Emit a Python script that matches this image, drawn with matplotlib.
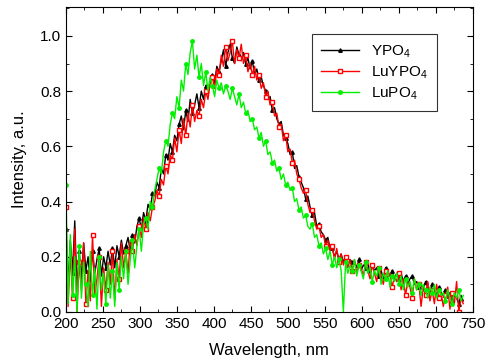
import numpy as np
import matplotlib
matplotlib.use("Agg")
import matplotlib.pyplot as plt
from matplotlib.ticker import MultipleLocator, FormatStrFormatter

plt.rcParams['font.family'] = ['Liberation Sans', 'DejaVu Sans']
plt.rcParams['mathtext.default'] = 'regular'

wavelength = np.arange(200, 740, 3)

ypo4 = [0.30, 0.10, 0.26, 0.14, 0.33, 0.08, 0.22, 0.12, 0.25, 0.15,
        0.20, 0.11, 0.22, 0.14, 0.19, 0.23, 0.13, 0.20, 0.16, 0.22,
        0.17, 0.23, 0.16, 0.24, 0.20, 0.26, 0.21, 0.24, 0.27, 0.22,
        0.28, 0.25, 0.31, 0.34, 0.30, 0.36, 0.33, 0.39, 0.37, 0.43,
        0.42, 0.47, 0.45, 0.52, 0.50, 0.57, 0.55, 0.61, 0.58, 0.64,
        0.62, 0.68, 0.71, 0.66, 0.73, 0.69, 0.77, 0.72, 0.75, 0.79,
        0.74, 0.80, 0.77, 0.82, 0.79, 0.84, 0.86, 0.83, 0.89, 0.87,
        0.91, 0.95, 0.89, 0.94, 0.97, 0.92, 0.90, 0.96, 0.93, 0.91,
        0.94, 0.90, 0.92, 0.88, 0.91, 0.86, 0.88, 0.84, 0.85, 0.82,
        0.80, 0.77, 0.78, 0.73, 0.74, 0.70, 0.68, 0.69, 0.64, 0.63,
        0.61, 0.57, 0.58, 0.52, 0.53, 0.49, 0.47, 0.45, 0.41, 0.42,
        0.38, 0.35, 0.36, 0.31, 0.32, 0.29, 0.28, 0.26, 0.27, 0.23,
        0.23, 0.20, 0.22, 0.19, 0.21, 0.18, 0.20, 0.17, 0.19, 0.18,
        0.18, 0.16, 0.19, 0.15, 0.17, 0.16, 0.18, 0.14, 0.17, 0.15,
        0.16, 0.13, 0.15, 0.12, 0.16, 0.14, 0.13, 0.15, 0.12, 0.14,
        0.12, 0.14, 0.11, 0.13, 0.10, 0.12, 0.13, 0.10, 0.11, 0.09,
        0.10, 0.08, 0.11, 0.09, 0.07, 0.10, 0.08, 0.06, 0.09, 0.07,
        0.06, 0.08, 0.05, 0.07, 0.04, 0.06, 0.05, 0.03, 0.06, 0.04]

luypo4 = [0.38, 0.02, 0.22, 0.05, 0.30, 0.00, 0.18, 0.08, 0.25, 0.03,
          0.15, 0.04, 0.28, 0.06, 0.12, 0.20, 0.02, 0.16, 0.08, 0.18,
          0.10, 0.22, 0.04, 0.19, 0.12, 0.25, 0.16, 0.22, 0.14, 0.26,
          0.22, 0.28, 0.24, 0.31, 0.27, 0.34, 0.30, 0.36, 0.33, 0.38,
          0.40, 0.44, 0.42, 0.48, 0.46, 0.53, 0.50, 0.57, 0.55, 0.63,
          0.58, 0.66, 0.61, 0.70, 0.64, 0.72, 0.67, 0.75, 0.69, 0.73,
          0.71, 0.77, 0.74, 0.80, 0.77, 0.83, 0.85, 0.81, 0.88, 0.86,
          0.93, 0.89, 0.96, 0.91, 0.94, 0.98, 0.90, 0.95, 0.92, 0.97,
          0.90, 0.93, 0.87, 0.90, 0.86, 0.89, 0.84, 0.86, 0.81, 0.83,
          0.78, 0.80, 0.75, 0.76, 0.71, 0.72, 0.67, 0.68, 0.62, 0.64,
          0.58, 0.59, 0.54, 0.55, 0.50, 0.48, 0.45, 0.43, 0.44, 0.39,
          0.36, 0.37, 0.33, 0.30, 0.31, 0.27, 0.28, 0.24, 0.26, 0.22,
          0.24, 0.19, 0.23, 0.18, 0.21, 0.17, 0.20, 0.16, 0.19, 0.15,
          0.19, 0.14, 0.17, 0.16, 0.13, 0.18, 0.15, 0.12, 0.17, 0.14,
          0.11, 0.16, 0.13, 0.10, 0.15, 0.12, 0.14, 0.09, 0.13, 0.11,
          0.14, 0.08, 0.12, 0.06, 0.11, 0.09, 0.05, 0.12, 0.08, 0.10,
          0.02, 0.09, 0.06, 0.11, 0.04, 0.08, 0.03, 0.10, 0.05, 0.07,
          0.02, 0.06, 0.09, 0.01, 0.07, 0.03, 0.11, 0.00, 0.05, 0.03]

lupo4 = [0.46, 0.03, 0.28, 0.06, 0.20, 0.00, 0.24, 0.05, 0.18, 0.10,
         0.02, 0.22, 0.06, 0.16, 0.01, 0.20, 0.08, 0.14, 0.03, 0.17,
         0.05, 0.15, 0.02, 0.18, 0.08, 0.20, 0.12, 0.22, 0.10, 0.19,
         0.26, 0.16, 0.24, 0.30, 0.22, 0.32, 0.34, 0.30, 0.40, 0.38,
         0.44, 0.48, 0.52, 0.50, 0.58, 0.62, 0.60, 0.68, 0.72, 0.70,
         0.78, 0.74, 0.84, 0.80, 0.90, 0.86, 0.94, 0.98, 0.88, 0.93,
         0.85, 0.90, 0.82, 0.87, 0.80, 0.85, 0.82, 0.78, 0.84, 0.81,
         0.83, 0.79, 0.82, 0.80, 0.77, 0.81, 0.78, 0.75, 0.79, 0.74,
         0.76, 0.72, 0.73, 0.69, 0.70, 0.66, 0.67, 0.63, 0.65, 0.60,
         0.62, 0.57, 0.58, 0.54, 0.55, 0.51, 0.52, 0.48, 0.50, 0.46,
         0.47, 0.44, 0.45, 0.40, 0.41, 0.37, 0.38, 0.34, 0.35, 0.31,
         0.30, 0.32, 0.27, 0.28, 0.24, 0.25, 0.21, 0.23, 0.19, 0.22,
         0.17, 0.20, 0.16, 0.19, 0.15, 0.00, 0.18, 0.14, 0.17, 0.15,
         0.19, 0.13, 0.17, 0.15, 0.12, 0.18, 0.14, 0.16, 0.11, 0.15,
         0.13, 0.16, 0.10, 0.14, 0.12, 0.15, 0.09, 0.13, 0.11, 0.14,
         0.10, 0.13, 0.08, 0.12, 0.09, 0.11, 0.07, 0.12, 0.08, 0.10,
         0.06, 0.10, 0.08, 0.05, 0.09, 0.07, 0.10, 0.05, 0.08, 0.06,
         0.07, 0.04, 0.08, 0.05, 0.03, 0.07, 0.05, 0.08, 0.04, 0.06]

labels = ['YPO$_4$', 'LuYPO$_4$', 'LuPO$_4$']

fig = plt.figure(figsize=(4.88, 3.64), dpi=100)
ax = fig.add_axes([0.135, 0.143, 0.834, 0.838])

ax.plot(wavelength, ypo4, color='black', lw=1, marker='^', ms=2.5,
        markevery=3, label=labels[0])
ax.plot(wavelength, luypo4, color='#ff0000', lw=1, marker='s', ms=2.5,
        mfc='white', mec='#ff0000', markevery=3, label=labels[1])
ax.plot(wavelength, lupo4, color='#00f000', lw=1, marker='o', ms=2.5,
        markevery=3, label=labels[2])

ax.set_xlim(200, 750)
ax.set_ylim(0, 1.105)
ax.xaxis.set_major_locator(MultipleLocator(50))
ax.xaxis.set_minor_locator(MultipleLocator(25))
ax.yaxis.set_major_locator(MultipleLocator(0.2))
ax.yaxis.set_minor_locator(MultipleLocator(0.1))
ax.tick_params(which='both', direction='in', top=True, right=True, labelsize=11)
ax.tick_params(which='major', length=4)
ax.tick_params(which='minor', length=2.5)
ax.yaxis.set_major_formatter(FormatStrFormatter('%.1f'))

ax.set_xlabel('Wavelength, nm', fontsize=12, labelpad=9)
ax.set_ylabel('Intensity, a.u.', fontsize=12, labelpad=9)

leg = ax.legend(loc='upper left', bbox_to_anchor=(0.585, 0.935), fontsize=11,
                frameon=True, fancybox=False, edgecolor='black',
                handlelength=2.5, borderpad=0.6, labelspacing=0.3)
leg.get_frame().set_linewidth(0.8)

fig.savefig('out.png', dpi=100)
